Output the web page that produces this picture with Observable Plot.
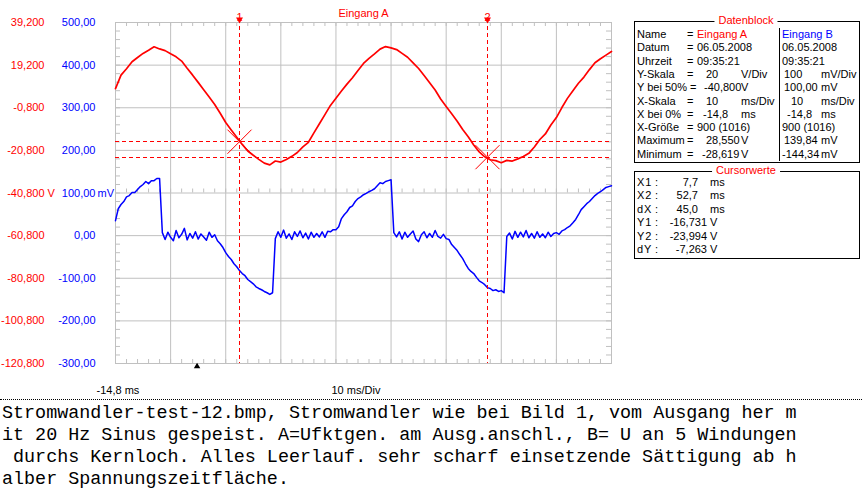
<!DOCTYPE html>
<html><head><meta charset="utf-8">
<script src="https://cdn.jsdelivr.net/npm/d3@7"></script>
<script src="https://cdn.jsdelivr.net/npm/@observablehq/plot@0.6"></script>
<style>
html,body{margin:0;padding:0;background:#fff;}
body{width:862px;height:488px;overflow:hidden;position:relative;font-family:"Liberation Sans",Arial,sans-serif;}
#chart{position:absolute;left:0;top:0;}
.box{position:absolute;border:1px solid #000;box-sizing:border-box;}
.ttl{position:absolute;color:#f00;background:#fff;padding:0 4px;font-size:11px;line-height:13px;transform:translateX(-50%);white-space:pre;}
.c{position:absolute;font-size:11px;line-height:13px;white-space:pre;color:#000;}
#sep{position:absolute;left:0;top:399px;width:862px;border-top:1px dotted #000;}
.cap{position:absolute;left:2px;font-family:"Liberation Mono","DejaVu Sans Mono",monospace;font-size:18.4px;line-height:14px;white-space:pre;color:#000;}
</style></head>
<body>
<div id="chart"></div>
<div id="sep"></div>
<script>
// ---- scope settings ----
const timeStart = -14.8;      // ms, X bei 0%
const msPerDiv = 10;
const xDivs = 9;
const redCenter = -40.8, redPerDiv = 20;     // V
const blueCenter = 100, bluePerDiv = 100;    // mV
const yDivs = 8;

// ---- axis tick labels ----
const redTickLabels = ["39,200","19,200","-0,800","-20,800","-40,800","-60,800","-80,800","-100,800","-120,800"];
const blueTickLabels = ["500,00","400,00","300,00","200,00","100,00","0,00","-100,00","-200,00","-300,00"];

// ---- Eingang A (V), sampled every 1 ms from -14.8 ms ----
const redStep = 1.0;
const redValues = [8.2, 14.5, 17.5, 20.8, 22.8, 24.7, 26.2, 27.8, 26.8, 26.0,
 24.5, 23.1, 21.1, 17.7, 14.5, 11.1, 7.6, 4.2, 0.7, -3.4,
 -7.7, -11.2, -14.6, -18.0, -21.1, -23.1, -25.0, -26.8, -27.6, -25.8,
 -26.3, -25.1, -23.6, -21.8, -19.2, -17.0, -12.6, -8.3, -4.0, 0.3,
 3.7, 7.1, 10.3, 13.3, 16.7, 20.0, 22.4, 24.5, 26.7, 27.9,
 27.3, 26.5, 24.7, 22.9, 20.3, 17.6, 14.3, 10.9, 7.5, 3.3,
 -0.2, -3.6, -7.1, -11.0, -14.4, -18.3, -21.5, -23.8, -25.2, -25.6,
 -26.6, -25.5, -25.8, -24.8, -23.7, -22.2, -19.2, -15.7, -13.1, -8.9,
 -5.4, -0.7, 3.6, 7.2, 10.7, 13.6, 17.1, 20.3, 22.2, 23.9, 25.6];

// ---- Eingang B (mV), sampled every 0.5 ms from -14.8 ms ----
const blueStep = 0.5;
const blueValues = [35, 63, 73, 80, 91, 94, 101, 101, 108, 115,
 120, 127, 122, 129, 129, 134, 134,
 7, -9, 8, -4, -12, 12, -5, 3, 17, -10, 5, -6, 9, -8, 4, -3, -11, 8, -4, 2, -12,
 -19, -28, -40, -49, -56, -66, -73, -82, -89, -94, -103, -108, -113, -120, -124, -127, -131, -134, -138, -134,
 -7, 9, -4, 13, -6, 4, -9, 9, -2, 11, -5, 6, -8, 8, -4, 5, -3, 9, -4, 10, 9, 14,
 14, 21, 40, 49, 56, 66, 70, 80, 87, 91, 96, 99, 103, 106, 110, 117, 124, 122, 127, 129, 131,
 7, -3, 9, -8, 8, -4, 4, 11, -8, -14, 2, 9, -5, 5, -4, 12, -2, -6, 3, -7,
 -9, -21, -28, -35, -45, -54, -66, -77, -84, -89, -98, -106, -110, -115, -122, -124, -129, -127, -131, -129, -134,
 -2, 6, -8, 10, -4, 8, -3, 12, -5, 5, -6, 9, -4, 4, -5, 8, -2, 5, 7, 3, 11,
 14, 19, 23, 30, 38, 49, 61, 68, 75, 80, 87, 94, 99, 103, 108, 113, 115, 117];

// ---- cursors ----
const cursorNames = ["1", "2"];
const cursorT = [7.7, 52.7];          // ms
const cursorY = [-16.731, -23.994];   // V
const triggerT = [0];

// ---- Datenblock ----
const blockLabels = ["Name","Datum","Uhrzeit","Y-Skala","Y bei 50%","X-Skala","X bei 0%","X-Größe","Maximum","Minimum"];
const aValues = ["Eingang A","06.05.2008","09:35:21","20","-40,800","10","-14,8","900 (1016)","28,550","-28,619"];
const aUnits  = ["","","","V/Div","V","ms/Div","ms","","V","V"];
const bValues = ["Eingang B","06.05.2008","09:35:21","100","100,00","10","-14,8","900 (1016)","139,84","-144,34"];
const bUnits  = ["","","","mV/Div","mV","ms/Div","ms","","mV","mV"];

const captionLines = [
 "Stromwandler-test-12.bmp, Stromwandler wie bei Bild 1, vom Ausgang her m",
 "it 20 Hz Sinus gespeist. A=Ufktgen. am Ausg.anschl., B= U an 5 Windungen",
 " durchs Kernloch. Alles Leerlauf. sehr scharf einsetzende Sättigung ab h",
 "alber Spannungszeitfläche."
];

// ---- derived ----
const fmt = (v, n) => v.toFixed(n).replace(".", ",");
const xMin = timeStart, xMax = timeStart + xDivs * msPerDiv;
const yMax = redCenter + yDivs / 2 * redPerDiv, yMin = redCenter - yDivs / 2 * redPerDiv;
const redTicks = d3.range(yDivs + 1).map(k => yMax - k * redPerDiv);
const majorX = d3.range(xDivs + 1).map(k => timeStart + k * msPerDiv);
const minorX = d3.range(xDivs * 5 + 1).map(k => timeStart + k * msPerDiv / 5);
const minorY = d3.range(yDivs * 5 + 1).map(k => yMin + k * redPerDiv / 5);
const red = redValues.map((v, i) => ({t: timeStart + i * redStep, v}));
const blue = blueValues.map((mv, i) => ({t: timeStart + i * blueStep, v: redCenter + (mv - blueCenter) / bluePerDiv * redPerDiv}));
const cursors = cursorT.map((t, i) => ({t, y: cursorY[i], name: cursorNames[i]}));

const W = 862, H = 398, mL = 115, mR = 251, mT = 22, mB = 35;
const fw = W - mL - mR, fh = H - mT - mB;
const grey = "#c0c0c0", RED = "#ff0000", BLUE = "#0000ff";

const chart = Plot.plot({
  width: W, height: H,
  marginLeft: mL, marginRight: mR, marginTop: mT, marginBottom: mB,
  x: {domain: [xMin, xMax], axis: null},
  y: {domain: [yMin, yMax], axis: null},
  style: {fontFamily: "'Liberation Sans', Arial, sans-serif", fontSize: "11px", background: "#fff", overflow: "visible"},
  marks: [
    Plot.ruleX(majorX, {stroke: grey}),
    Plot.ruleY(redTicks, {stroke: grey}),
    Plot.frame({stroke: grey}),
    // minor ticks on the edges and on the centre line
    Plot.ruleX(minorX, {stroke: grey, insetBottom: fh - 4}),
    Plot.ruleX(minorX, {stroke: grey, insetTop: fh - 4}),
    Plot.ruleX(minorX, {y1: redCenter, y2: redCenter, stroke: grey, insetBottom: 4}),
    Plot.ruleY(minorY, {stroke: grey, insetRight: fw - 5}),
    Plot.ruleY(minorY, {stroke: grey, insetLeft: fw - 5}),
    // traces
    Plot.line(red, {x: "t", y: "v", stroke: RED, strokeWidth: 1.7}),
    Plot.line(blue, {x: "t", y: "v", stroke: BLUE, strokeWidth: 1.5}),
    // cursors
    Plot.ruleX(cursorT, {stroke: RED, strokeWidth: 1, strokeDasharray: "4,3", insetTop: -3, shapeRendering: "crispEdges"}),
    Plot.ruleY(cursorY, {stroke: RED, strokeWidth: 1, strokeDasharray: "4,3", shapeRendering: "crispEdges"}),
    Plot.dot(cursors, {x: "t", y: "y", symbol: "times", r: 11, stroke: RED, strokeWidth: 1}),
    Plot.text(cursors, {x: "t", text: "name", frameAnchor: "top", dy: -9, fill: RED, fontSize: 11}),
    Plot.dot(cursors, {x: "t", frameAnchor: "top", dy: -3, symbol: "triangle", rotate: 180, r: 2.6, fill: RED, stroke: null}),
    Plot.dot(triggerT, {x: d => d, frameAnchor: "bottom", dy: 3, symbol: "triangle", r: 2.4, fill: "#000", stroke: null}),
    // title
    Plot.text(["Eingang A"], {frameAnchor: "top", dy: -13, fill: RED, fontSize: 11}),
    // left scales
    Plot.text(redTicks, {y: d => d, text: (d, i) => redTickLabels[i], frameAnchor: "left", textAnchor: "end", dx: -71, fill: RED, fontSize: 11}),
    Plot.text(redTicks, {y: d => d, text: (d, i) => blueTickLabels[i], frameAnchor: "left", textAnchor: "end", dx: -20, fill: BLUE, fontSize: 11}),
    Plot.text(["V"], {y: redCenter, frameAnchor: "left", textAnchor: "start", dx: -68, fill: RED, fontSize: 11}),
    Plot.text(["mV"], {y: redCenter, frameAnchor: "left", textAnchor: "start", dx: -18, fill: BLUE, fontSize: 11}),
    // bottom labels
    Plot.text([fmt(timeStart, 1) + " ms"], {frameAnchor: "bottom-left", textAnchor: "start", dx: -19, dy: 30, fill: "#000", fontSize: 11}),
    Plot.text([msPerDiv + " ms/Div"], {frameAnchor: "bottom", textAnchor: "start", dx: -32, dy: 30, fill: "#000", fontSize: 11})
  ]
});
document.getElementById("chart").appendChild(chart);

// ---- info boxes (HTML) ----
function el(cls, text, css) {
  const d = document.createElement("div");
  d.className = cls; d.textContent = text;
  Object.assign(d.style, css);
  document.body.appendChild(d);
  return d;
}
function cell(text, x, yc, color, right) {
  const css = {top: (yc - 7) + "px", color: color || "#000"};
  if (right) css.right = (862 - x) + "px"; else css.left = x + "px";
  el("c", text, css);
}
// Datenblock
el("box", "", {left: "634px", top: "21px", width: "226px", height: "142px"});
el("box", "", {left: "779px", top: "28px", width: "1px", height: "133px", border: "none", background: "#000"});
el("ttl", "Datenblock", {left: "746px", top: "14px"});
const aX = [697, 697, 697, 706, 702, 706, 703, 697, 706, 702];
const bX = [782, 782, 782, 784, 784, 791, 787, 782, 784, 782];
blockLabels.forEach((lab, r) => {
  const yc = 35 + r * 13.3;
  cell(lab, 637, yc);
  cell("=", r === 4 ? 690 : 687, yc);
  cell(aValues[r], aX[r] + (r === 4 ? 2 : 0), yc, r === 0 ? RED : "#000");
  if (aUnits[r]) cell(aUnits[r], 741, yc);
  cell(bValues[r], bX[r], yc, r === 0 ? BLUE : "#000");
  if (bUnits[r]) cell(bUnits[r], 821, yc);
});
// Cursorwerte
el("box", "", {left: "634px", top: "171px", width: "226px", height: "88px"});
el("ttl", "Cursorwerte", {left: "746px", top: "164px"});
const cw = [
  ["X1", fmt(cursorT[0], 1), "ms", 698],
  ["X2", fmt(cursorT[1], 1), "ms", 698],
  ["dX", fmt(cursorT[1] - cursorT[0], 1), "ms", 698],
  ["Y1", fmt(cursorY[0], 3), "V", 707],
  ["Y2", fmt(cursorY[1], 3), "V", 707],
  ["dY", fmt(cursorY[1] - cursorY[0], 3), "V", 707]
];
cw.forEach((row, r) => {
  const yc = 183 + r * 13.4;
  el("c", row[0], {left: "637px", top: (yc - 7) + "px", letterSpacing: "1px"});
  cell(":", 655, yc);
  cell(row[1], row[3], yc, "#000", true);
  cell(row[2], 710, yc);
});

// caption, one line per block
captionLines.forEach((line, k) => {
  el("cap", line, {top: (407 + k * 21.9) + "px"});
});
</script>
</body></html>
